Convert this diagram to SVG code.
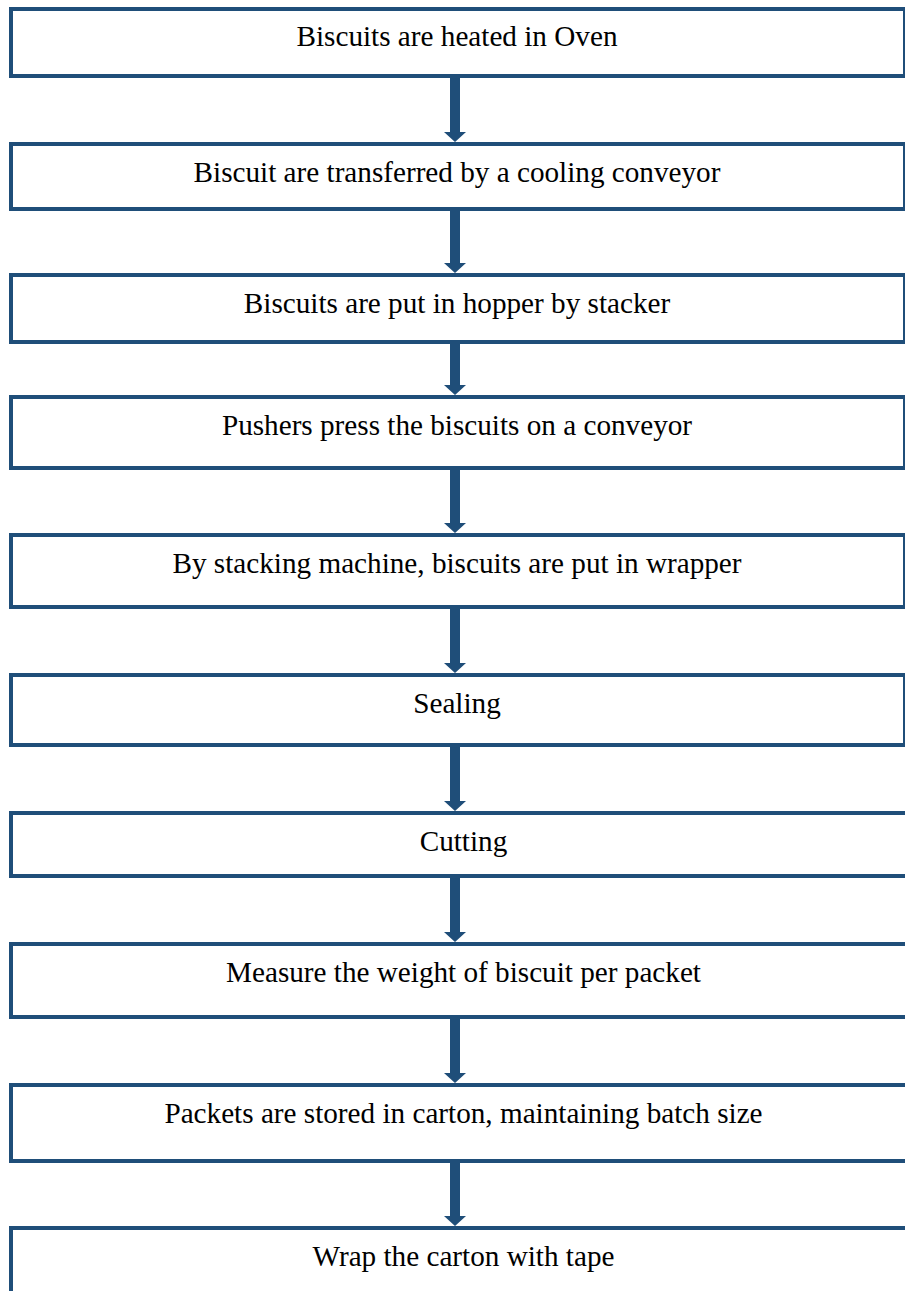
<svg xmlns="http://www.w3.org/2000/svg" width="905" height="1291" viewBox="0 0 905 1291">
<defs>
<style>
.box{fill:#ffffff;stroke:#1f4e79;stroke-width:4}
.lbl{font-family:"Liberation Serif","Times New Roman",serif;font-size:29.2px;fill:#000000;text-anchor:middle}
.arr{fill:#1f4e79}
</style>
</defs>
<rect width="905" height="1291" fill="#ffffff"/>
<g id="connectors">
<path class="arr" d="M450,77 H460 V132 H466 L455,142 L444,132 H450 Z"/>
<path class="arr" d="M450,210 H460 V263 H466 L455,273 L444,263 H450 Z"/>
<path class="arr" d="M450,343 H460 V385 H466 L455,395 L444,385 H450 Z"/>
<path class="arr" d="M450,469 H460 V523 H466 L455,533 L444,523 H450 Z"/>
<path class="arr" d="M450,608 H460 V663 H466 L455,673 L444,663 H450 Z"/>
<path class="arr" d="M450,746 H460 V801 H466 L455,811 L444,801 H450 Z"/>
<path class="arr" d="M450,877 H460 V932 H466 L455,942 L444,932 H450 Z"/>
<path class="arr" d="M450,1018 H460 V1073 H466 L455,1083 L444,1073 H450 Z"/>
<path class="arr" d="M450,1162 H460 V1216 H466 L455,1226 L444,1216 H450 Z"/>
</g>
<g id="n1"><rect class="box" x="11" y="9" width="894" height="67"/><text class="lbl" x="457" y="46">Biscuits are heated in Oven</text></g>
<g id="n2"><rect class="box" x="11" y="144" width="894" height="65"/><text class="lbl" x="457" y="182">Biscuit are transferred by a cooling conveyor</text></g>
<g id="n3"><rect class="box" x="11" y="275" width="894" height="67"/><text class="lbl" x="457" y="313">Biscuits are put in hopper by stacker</text></g>
<g id="n4"><rect class="box" x="11" y="397" width="894" height="71"/><text class="lbl" x="457" y="435">Pushers press the biscuits on a conveyor</text></g>
<g id="n5"><rect class="box" x="11" y="535" width="894" height="72"/><text class="lbl" x="457" y="573">By stacking machine, biscuits are put in wrapper</text></g>
<g id="n6"><rect class="box" x="11" y="675" width="894" height="70"/><text class="lbl" x="457" y="713">Sealing</text></g>
<g id="n7"><rect class="box" x="11" y="813" width="906" height="63"/><text class="lbl" x="463.5" y="851">Cutting</text></g>
<g id="n8"><rect class="box" x="11" y="944" width="906" height="73"/><text class="lbl" x="463.5" y="982">Measure the weight of biscuit per packet</text></g>
<g id="n9"><rect class="box" x="11" y="1085" width="906" height="76"/><text class="lbl" x="463.5" y="1123">Packets are stored in carton, maintaining batch size</text></g>
<g id="n10"><rect class="box" x="11" y="1228" width="906" height="80"/><text class="lbl" x="463.5" y="1266">Wrap the carton with tape</text></g>
</svg>
